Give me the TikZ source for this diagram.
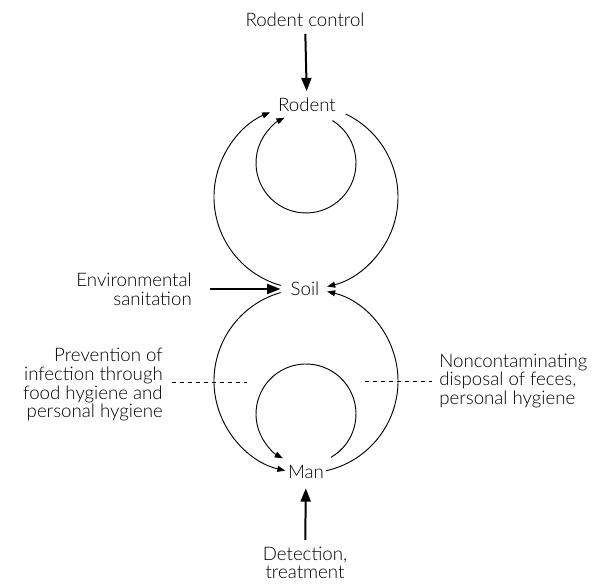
\documentclass[tikz,border=0pt]{standalone}
\usepackage{fontspec}
\setmainfont{Lato}[UprightFont=* Light]
\usetikzlibrary{arrows.meta}

\begin{document}
\begin{tikzpicture}[x=0.75pt,y=0.75pt,font=\fontsize{14}{14}\selectfont,
  lbl/.style={inner sep=0pt},
  cyc/.style={line width=0.7pt,-{Triangle[length=6pt,width=4.5pt]}},
  ctrl/.style={line width=1.5pt,-{Triangle[length=10pt,width=7.5pt]}},
  hint/.style={dashed,dash pattern=on 3pt off 3pt,line width=0.5pt}]
\useasboundingbox (0,0) rectangle (603,584);
\node[lbl] (rod) at (307,479) {Rodent};
\node[lbl] (soil) at (305,295) {Soil};
\node[lbl] (man) at (306,112) {Man};
\node[lbl] (rc) at (305,564) {Rodent control};
\node[lbl,align=right,anchor=east] (env) at (192,295) {Environmental\\sanitation};
\node[lbl,align=center] (det) at (305,21) {Detection,\\treatment};
\node[lbl,align=right,anchor=east] (prev) at (163,199) {Prevention of\\infection through\\food hygiene and\\personal hygiene};
\node[lbl,align=left,anchor=west] (disp) at (439,203) {Noncontaminating\\disposal of feces,\\personal hygiene};
% circle centres
\coordinate (cup) at (306,387);
\coordinate (cin) at (306,421);
\coordinate (clo) at (306,203);
\coordinate (cim) at (306,170);
\coordinate (dl) at (247,202);
\coordinate (dr) at (365,203);
% cycles
\foreach \c/\a/\b in {cup/254/113,cup/64.5/-76.7,clo/106/257,clo/-77.6/76.7}
  \draw[cyc] ([shift={(\a:69pt)}]\c) arc[start angle=\a,end angle=\b,radius=69pt];
\foreach \c/\a/\b in {cin/58/-244.5,cim/-60/242.4}
  \draw[cyc] ([shift={(\a:37.5pt)}]\c) arc[start angle=\a,end angle=\b,radius=37.5pt];
% control measures
\draw[ctrl,shorten <=5pt,shorten >=5pt] (rc) -- (rod);
\draw[ctrl,shorten <=13.5pt,shorten >=7.5pt] (env) -- (soil);
\draw[ctrl,shorten <=5pt,shorten >=7pt] (det) -- (man);
\draw[hint] ([xshift=7pt]prev.east |- dl) -- (dl);
\draw[hint] (dr) -- ([xshift=-5pt]disp.west |- dr);
\end{tikzpicture}
\end{document}
